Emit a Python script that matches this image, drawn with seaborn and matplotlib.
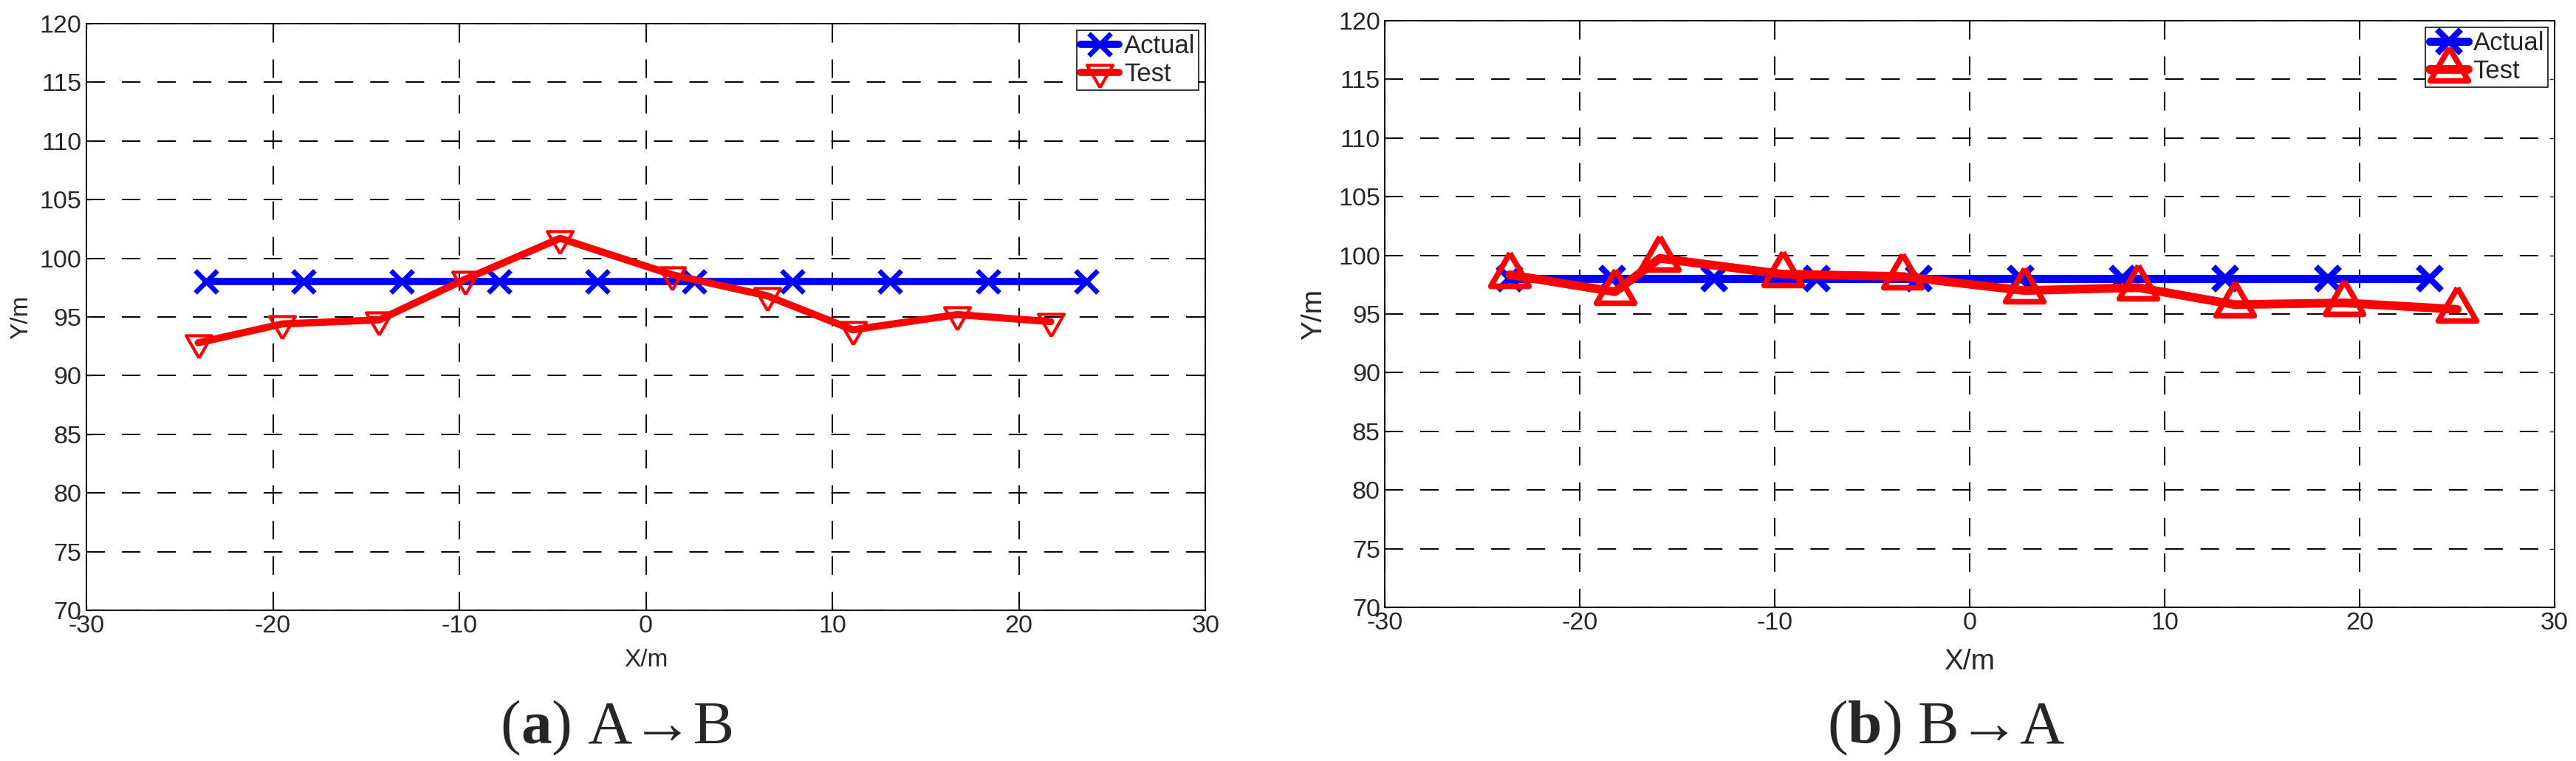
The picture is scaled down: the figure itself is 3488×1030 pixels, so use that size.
import numpy as np
import pandas as pd
import matplotlib

matplotlib.use('Agg')
import matplotlib.pyplot as plt
import seaborn as sns

# positions along X/m of the reference ("Actual") points, same in both panels
actual_x = [-23.6, -18.35, -13.1, -7.85, -2.6, 2.6, 7.85, 13.1, 18.35, 23.6]
actual_y = [98.0, 98.0, 98.0, 98.0, 98.0, 98.0, 98.0, 98.0, 98.0, 98.0]

# (a) A->B test points
test_a_x = [-24.0, -19.5, -14.3, -9.7, -4.6, 1.4, 6.5, 11.1, 16.7, 21.7]
test_a_y = [92.8, 94.4, 94.75, 98.2, 101.7, 98.6, 96.8, 93.9, 95.2, 94.6]

# (b) B->A test points
test_b_x = [-23.6, -18.2, -15.9, -9.6, -3.45, 2.8, 8.65, 13.6, 19.2, 25.0]
test_b_y = [98.35, 96.9, 99.75, 98.4, 98.2, 97.0, 97.25, 95.8, 95.95, 95.4]

xticks = [-30, -20, -10, 0, 10, 20, 30]
yticks = [70, 75, 80, 85, 90, 95, 100, 105, 110, 115, 120]
series_labels = ['Actual', 'Test']
captions = [('a', 'A\u2192B'), ('b', 'B\u2192A')]

sns.set_style('ticks')
plt.rcParams['font.family'] = ['Liberation Sans', 'DejaVu Sans']
plt.rcParams['axes.unicode_minus'] = False

# triangles centred on their centroid (matlab style)
tri_down = [(0, -1), (-0.866, 0.5), (0.866, 0.5), (0, -1)]
tri_up = [(0, 1), (-0.866, -0.5), (0.866, -0.5), (0, 1)]

fig = plt.figure(figsize=(34.88, 10.30), dpi=100)
ax_a = fig.add_axes([0.03354, 0.1981, 0.4344, 0.7709])
ax_b = fig.add_axes([0.5376, 0.2019, 0.4541, 0.7709])

panels = [
    dict(ax=ax_a, tx=test_a_x, ty=test_a_y, tri=tri_down, lw_b=7, lw_r=7,
         xs=21.5, xmew=4.8, ts=29, tmew=3.0, lab=24, xlab_y=-0.0856, ylab_x=-0.058),
    dict(ax=ax_b, tx=test_b_x, ty=test_b_y, tri=tri_up, lw_b=8, lw_r=8.5,
         xs=22.5, xmew=6.0, ts=43, tmew=5.5, lab=28, xlab_y=-0.0932, ylab_x=-0.0606),
]

for p in panels:
    ax = p['ax']
    df_act = pd.DataFrame({'x': actual_x, 'y': actual_y})
    df_test = pd.DataFrame({'x': p['tx'], 'y': p['ty']})
    sns.lineplot(data=df_act, x='x', y='y', ax=ax, estimator=None, sort=False,
                 color='#0000ff', lw=p['lw_b'], marker='x', markersize=p['xs'],
                 markeredgewidth=p['xmew'], markeredgecolor='#0000ff',
                 label=series_labels[0], zorder=3)
    sns.lineplot(data=df_test, x='x', y='y', ax=ax, estimator=None, sort=False,
                 color='#ff0000', lw=p['lw_r'], marker=p['tri'], markersize=p['ts'],
                 markeredgewidth=p['tmew'], markeredgecolor='#ff0000',
                 markerfacecolor='none', label=series_labels[1], zorder=4)

    ax.set_xlim(-30, 30)
    ax.set_ylim(70, 120)
    ax.set_xticks(xticks)
    ax.set_yticks(yticks)
    ax.tick_params(direction='in', top=True, right=True, length=5, width=1,
                   labelsize=24.5, pad=4.5)
    ax.grid(True, color='black', lw=1.4, linestyle=(0, (12.9, 11.8)))
    ax.set_axisbelow(True)
    for s in ax.spines.values():
        s.set_color('black')
        s.set_linewidth(1.3)

    ax.set_xlabel('X/m', fontsize=p['lab'], va='center')
    ax.set_ylabel('Y/m', fontsize=p['lab'], va='center')
    ax.xaxis.set_label_coords(0.5, p['xlab_y'])
    ax.yaxis.set_label_coords(p['ylab_x'], 0.5)

    leg = ax.legend(loc='upper right', fontsize=25, frameon=True, fancybox=False,
                    edgecolor='black', framealpha=1, borderpad=0.15,
                    labelspacing=0.15, handlelength=1.5, handletextpad=0.2,
                    borderaxespad=0.25)
    leg.get_frame().set_linewidth(1.1)


def place_caption(xc, yb, letter, rest):
    fam = ['Liberation Serif', 'DejaVu Serif']
    pieces = [('(', 'normal'), (letter, 'bold'), (')', 'normal'), (rest, 'normal')]
    texts = [fig.text(0, yb, s, fontsize=60, fontweight=w, family=fam,
                      va='baseline', ha='left') for s, w in pieces]
    r = fig.canvas.get_renderer()
    W = fig.bbox.width
    widths = [t.get_window_extent(r).width / W for t in texts]
    gap = 0.25 * 60 * 100 / 72 / W
    x = xc - (sum(widths) + gap) / 2
    for i, (t, w) in enumerate(zip(texts, widths)):
        if i == 3:
            x += gap
        t.set_x(x)
        x += w


place_caption(836 / 3488, 1 - 1005 / 1030, *captions[0])
place_caption(2635 / 3488, 1 - 1005 / 1030, *captions[1])

fig.savefig('out.png', dpi=100)
